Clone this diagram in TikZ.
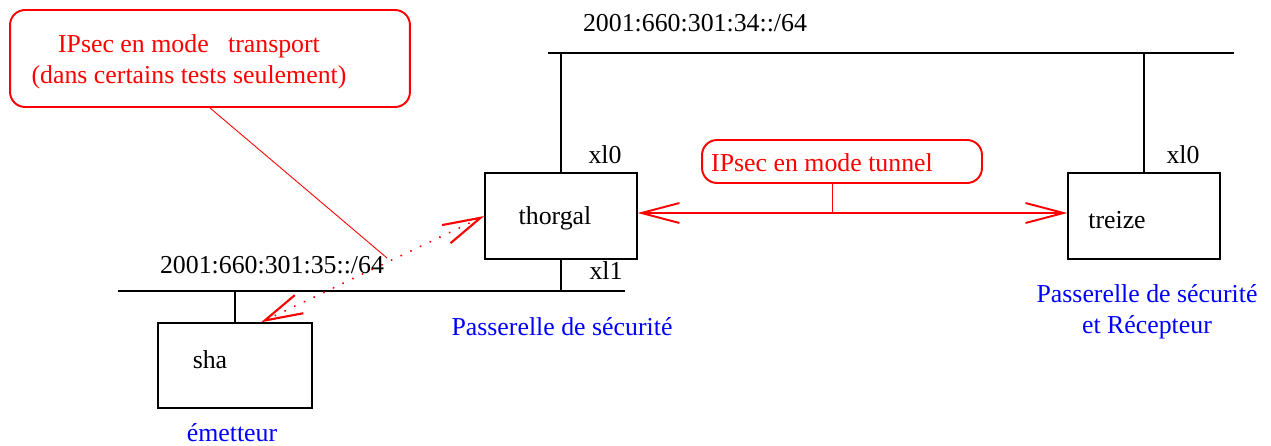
\documentclass[tikz,border=0pt]{standalone}
\usepackage{fontspec}
\setmainfont{Liberation Serif}
\usetikzlibrary{arrows.meta,calc}

\begin{document}
\begin{tikzpicture}[x=0.02cm,y=-0.02cm,
  every node/.style={font=\fontsize{14.7}{17.5}\selectfont, inner sep=0pt},
  host/.style={draw, line width=0.8pt, minimum width=3.04cm, minimum height=1.72cm},
  bus/.style={line width=0.8pt},
  note/.style={draw=red, line width=1.1pt, rounded corners=0.3cm},
  role/.style={text=blue, align=center},
  barb/.style={{Straight Barb[length=0.76cm,width=0.4cm]}-{Straight Barb[length=0.76cm,width=0.4cm]}}]
\useasboundingbox (0,0) rectangle (1271,446);

% networks
\coordinate (topl) at (548,53);
\coordinate (topr) at (1213,53);
\coordinate (lowl) at (118,291);
\coordinate (lowr) at (625,291);
\draw [bus] (topl) -- (topr);
\draw [line width=1.3pt] (topr) -- ++(21,0);
\draw [bus] (lowl) -- (lowr);
\node (net34) at (695,23) {2001:660:301:34::/64};
\node (net35) at (272,265) {2001:660:301:35::/64};

% hosts
\node [host] (thorgal) at (561,216) {};
\node (thorgaltxt) at (555,218) {thorgal};
\node [host] (treize) at (1144,216) {};
\node (treizetxt) at (1117,220) {treize};
\node [host, minimum width=3.08cm, minimum height=1.7cm] (sha) at (235,365.5) {};
\node (shatxt) at (210,360) {sha};

\draw [bus] (thorgal.north) -- (thorgal.north |- topl);
\draw [bus] (thorgal.south) -- (thorgal.south |- lowl);
\draw [bus] (treize.north) -- (treize.north |- topl);
\draw [bus] (sha.north) -- (sha.north |- lowl);
\node (xl0a) at (605,155) {xl0};
\node (xl1) at (606,271) {xl1};
\node (xl0b) at (1183,155) {xl0};

% roles
\node [role] (gw) at (562,327) {Passerelle de sécurité};
\node [role] (gwrx) at (1147,312) {Passerelle de sécurité\\et Récepteur};
\node [role] (tx) at (232,433) {émetteur};

% tunnel mode
\coordinate (tunfoot) at (832,213);
\draw [barb, red, line width=1.1pt] (tunfoot -| thorgal.east) -- (tunfoot -| treize.west);
\node [note, minimum width=5.6cm, minimum height=0.86cm] (tunbox) at (842,161.5) {};
\node [text=red] (tuntxt) at (822,163) {IPsec en mode tunnel};
\draw [red, line width=0.5pt] (tunfoot |- tunbox.south) -- (tunfoot);

% transport mode
\draw [barb, red, line width=1.2pt, dash pattern=on 0.1pt off 6pt, line cap=round]
  ($(sha.north)+(26,0)$) -- (thorgal.west);
\node [note, minimum width=8cm, minimum height=1.94cm] (trbox) at (210,58.5) {};
\node [text=red, align=center] (trtxt) at (189,62) {IPsec en mode~~~transport\\(dans certains tests seulement)};
\coordinate (trend) at (387,258);
\draw [red, line width=0.5pt] (trbox.south) -- (trend);

\end{tikzpicture}
\end{document}
